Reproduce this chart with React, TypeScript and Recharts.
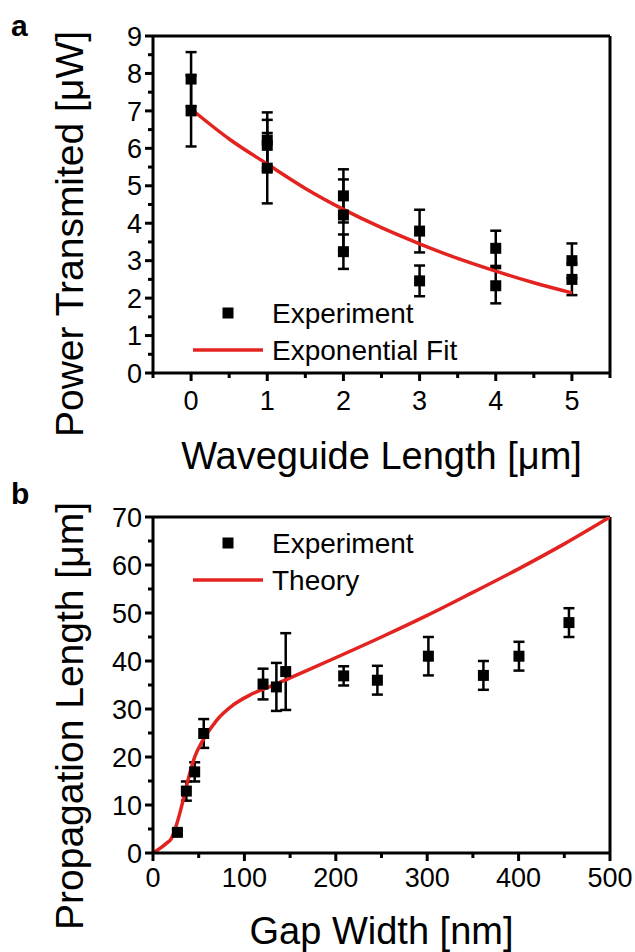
import React from 'react';
import {
  ComposedChart,
  Scatter,
  Line,
  XAxis,
  YAxis,
  ErrorBar,
  ReferenceLine,
  Legend,
  Label,
} from 'recharts';

const FONT = '"Liberation Sans", Arial, Helvetica, sans-serif';
const RED = '#e3231f';

// ---------- Panel a data ----------
const lengthsA = [0, 0, 1, 1, 1, 2, 2, 2, 3, 3, 4, 4, 5, 5];
const powerA = [7.85, 7.0, 6.22, 6.08, 5.47, 4.73, 4.22, 3.24, 3.79, 2.46, 3.33, 2.33, 3.0, 2.5];
const powerErrA = [0.72, 0.95, 0.74, 0.68, 0.94, 0.71, 0.95, 0.46, 0.57, 0.41, 0.47, 0.47, 0.46, 0.42];
const fitXA = [0, 0.5, 1, 1.5, 2, 2.5, 3, 3.5, 4, 4.5, 5];
const fitYA = [7.05, 6.25, 5.58, 4.93, 4.37, 3.88, 3.45, 3.06, 2.72, 2.41, 2.14];
const xTicksA = [-0.5, 0, 0.5, 1, 1.5, 2, 2.5, 3, 3.5, 4, 4.5, 5, 5.5];
const yTicksA = [0, 0.5, 1, 1.5, 2, 2.5, 3, 3.5, 4, 4.5, 5, 5.5, 6, 6.5, 7, 7.5, 8, 8.5, 9];

// ---------- Panel b data ----------
const gapB = [26.7, 36.5, 45.6, 55.5, 120.4, 135, 145.2, 208.6, 245.5, 301.3, 361.5, 400.4, 455.1];
const propB = [4.3, 12.9, 16.9, 24.9, 35.2, 34.6, 37.8, 36.9, 36.0, 41.0, 37.0, 41.0, 48.0];
const propErrB = [0.6, 2.0, 2.0, 3.0, 3.2, 5.0, 8.0, 2.0, 3.0, 4.0, 3.0, 3.0, 3.0];
const theoryXB = [0, 8, 14.6, 20, 23.7, 29.2, 34.7, 40.1, 45.6, 54.7, 69.4, 87.5, 105.8, 131, 150, 193, 250, 300, 350, 400, 450, 500];
const theoryYB = [0, 1.0, 2.0, 3.0, 4.7, 8.2, 12.4, 16.5, 20.0, 23.5, 27.6, 30.8, 32.9, 34.9, 36.5, 40.1, 45.0, 49.5, 54.3, 59.2, 64.4, 70];
const xTicksB = [0, 50, 100, 150, 200, 250, 300, 350, 400, 450, 500];
const yTicksB = [0, 5, 10, 15, 20, 25, 30, 35, 40, 45, 50, 55, 60, 65, 70];

const expA = lengthsA.map((x, i) => ({ x, y: powerA[i], err: powerErrA[i] }));
const fitA = fitXA.map((x, i) => ({ x, y: fitYA[i] }));
const expB = gapB.map((x, i) => ({ x, y: propB[i], err: propErrB[i] }));
const theoryB = theoryXB.map((x, i) => ({ x, y: theoryYB[i] }));

const TICK_SIZE = 8;
const X_MARGIN = 10;
const Y_MARGIN = 3;
const TICK_FONT = 27;

const makeXTick = (isMajor: (v: number) => boolean, margin: number) => (props: any) => {
  const { x, y, payload } = props;
  const axisY = y - TICK_SIZE - margin;
  const major = isMajor(payload.value);
  return (
    <g>
      <line x1={x} x2={x} y1={axisY} y2={axisY + (major ? 8 : 5)} stroke="#000" strokeWidth={3} />
      {major && (
        <text x={x} y={y} dy="0.71em" textAnchor="middle" fontFamily={FONT} fontSize={TICK_FONT} fill="#000">
          {String(payload.value)}
        </text>
      )}
    </g>
  );
};

const makeYTick = (isMajor: (v: number) => boolean) => (props: any) => {
  const { x, y, payload } = props;
  const axisX = x + TICK_SIZE + Y_MARGIN;
  const major = isMajor(payload.value);
  return (
    <g>
      <line x1={axisX} x2={axisX - (major ? 8 : 5)} y1={y} y2={y} stroke="#000" strokeWidth={3} />
      {major && (
        <text x={x} y={y} dy="0.36em" textAnchor="end" fontFamily={FONT} fontSize={TICK_FONT} fill="#000">
          {String(payload.value)}
        </text>
      )}
    </g>
  );
};

const Square = (props: any) => {
  const { cx, cy } = props;
  if (cx == null || cy == null) return <g />;
  return <rect x={cx - 5.5} y={cy - 5.5} width={11} height={11} fill="#000" />;
};

const LegendBox = ({ lineLabel }: { lineLabel: string }) => (
  <svg width={320} height={90} style={{ display: 'block', overflow: 'visible' }}>
    <rect x={42.5} y={27.5} width={11} height={11} fill="#000" />
    <text x={92} y={33} dy="0.35em" fontFamily={FONT} fontSize={28} fill="#000">Experiment</text>
    <line x1={13} x2={83} y1={70} y2={70} stroke={RED} strokeWidth={3.5} />
    <text x={92} y={70} dy="0.35em" fontFamily={FONT} fontSize={28} fill="#000">{lineLabel}</text>
  </svg>
);

const axisLineStyle = { stroke: '#000', strokeWidth: 3 };

const XTitle = (text: string, baseline: number) => () => (
  <text x={381.5} y={baseline} textAnchor="middle" fontFamily={FONT} fontSize={38} fill="#000">{text}</text>
);

const YTitle = (text: string, centerY: number, letter: string, letterBaseline: number) => () => (
  <g>
    <text
      x={83}
      y={centerY}
      transform={`rotate(-90, 83, ${centerY})`}
      textAnchor="middle"
      fontFamily={FONT}
      fontSize={39}
      fill="#000"
    >
      {text}
    </text>
    <text x={11} y={letterBaseline} fontFamily={FONT} fontSize={30} fontWeight="bold" fill="#000">{letter}</text>
  </g>
);

function PanelA() {
  return (
    <ComposedChart width={635} height={480} margin={{ top: 36, right: 25, bottom: 0, left: 0 }}>
      <XAxis
        dataKey="x"
        type="number"
        domain={[-0.5, 5.5]}
        ticks={xTicksA}
        interval={0}
        allowDataOverflow
        height={107}
        tickSize={TICK_SIZE}
        tickMargin={X_MARGIN}
        tickLine={false}
        axisLine={axisLineStyle}
        tick={makeXTick((v) => Number.isInteger(v), X_MARGIN)}
      >
        <Label content={XTitle('Waveguide Length [\u03bcm]', 469)} />
      </XAxis>
      <YAxis
        dataKey="y"
        type="number"
        domain={[0, 9]}
        ticks={yTicksA}
        interval={0}
        allowDataOverflow
        width={153}
        tickSize={TICK_SIZE}
        tickMargin={Y_MARGIN}
        tickLine={false}
        axisLine={axisLineStyle}
        tick={makeYTick((v) => Number.isInteger(v))}
      >
        <Label content={YTitle('Power Transmited [\u03bcW]', 234, 'a', 36)} />
      </YAxis>
      <ReferenceLine y={9} stroke="#000" strokeWidth={3} ifOverflow="visible" />
      <ReferenceLine x={5.5} stroke="#000" strokeWidth={3} ifOverflow="visible" />
      <Scatter data={expA} shape={Square} isAnimationActive={false}>
        <ErrorBar dataKey="err" direction="y" width={5.5} strokeWidth={2.5} stroke="#000" isAnimationActive={false} />
      </Scatter>
      <Line
        data={fitA}
        dataKey="y"
        type="monotone"
        stroke={RED}
        strokeWidth={3.5}
        dot={false}
        activeDot={false}
        isAnimationActive={false}
      />
      <Legend
        layout="vertical"
        align="center"
        verticalAlign="middle"
        wrapperStyle={{ left: 180, top: 280, width: 320 }}
        content={() => <LegendBox lineLabel="Exponential Fit" />}
      />
    </ComposedChart>
  );
}

function PanelB() {
  return (
    <ComposedChart width={635} height={492} margin={{ top: 57, right: 25, bottom: 0, left: 0 }}>
      <XAxis
        dataKey="x"
        type="number"
        domain={[0, 500]}
        ticks={xTicksB}
        interval={0}
        allowDataOverflow
        height={99}
        tickSize={TICK_SIZE}
        tickMargin={7}
        tickLine={false}
        axisLine={axisLineStyle}
        tick={makeXTick((v) => v % 100 === 0, 7)}
      >
        <Label content={XTitle('Gap Width [nm]', 484)} />
      </XAxis>
      <YAxis
        dataKey="y"
        type="number"
        domain={[0, 70]}
        ticks={yTicksB}
        interval={0}
        allowDataOverflow
        width={153}
        tickSize={TICK_SIZE}
        tickMargin={Y_MARGIN}
        tickLine={false}
        axisLine={axisLineStyle}
        tick={makeYTick((v) => v % 10 === 0)}
      >
        <Label content={YTitle('Propagation Length [\u03bcm]', 256, 'b', 44)} />
      </YAxis>
      <ReferenceLine y={70} stroke="#000" strokeWidth={3} ifOverflow="visible" />
      <ReferenceLine x={500} stroke="#000" strokeWidth={3} ifOverflow="visible" />
      <Scatter data={expB} shape={Square} isAnimationActive={false}>
        <ErrorBar dataKey="err" direction="y" width={5.5} strokeWidth={2.5} stroke="#000" isAnimationActive={false} />
      </Scatter>
      <Line
        data={theoryB}
        dataKey="y"
        type="monotone"
        stroke={RED}
        strokeWidth={3.5}
        dot={false}
        activeDot={false}
        isAnimationActive={false}
      />
      <Legend
        layout="vertical"
        align="center"
        verticalAlign="middle"
        wrapperStyle={{ left: 180, top: 50, width: 320 }}
        content={() => <LegendBox lineLabel="Theory" />}
      />
    </ComposedChart>
  );
}

export default function App() {
  return (
    <div style={{ position: 'absolute', left: 0, top: 0, width: 635, height: 952, background: '#fff' }}>
      <div style={{ position: 'absolute', left: 0, top: 0 }}>
        <PanelA />
      </div>
      <div style={{ position: 'absolute', left: 0, top: 460 }}>
        <PanelB />
      </div>
    </div>
  );
}
